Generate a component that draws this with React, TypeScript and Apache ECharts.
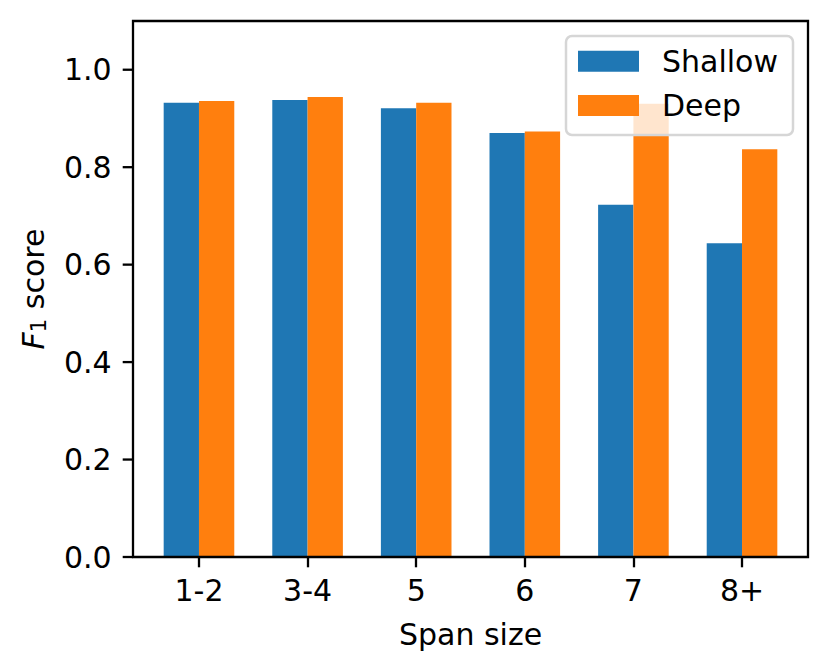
import React, { useEffect, useRef } from 'react';
import * as echarts from 'echarts';

const categories = ['1-2', '3-4', '5', '6', '7', '8+'];
const shallow = [0.932, 0.938, 0.921, 0.87, 0.723, 0.644];
const deep = [0.936, 0.944, 0.932, 0.873, 0.93, 0.837];
const yTicks = [0, 0.2, 0.4, 0.6, 0.8, 1.0];
const seriesNames = ['Shallow', 'Deep'];
const colors = ['#1f77b4', '#ff7f0e'];

export default function App() {
  const ref = useRef<HTMLDivElement>(null);
  useEffect(() => {
    const chart = echarts.init(ref.current!, null, { renderer: 'svg' });
    const font = 'DejaVu Sans';
    const fs = 30;
    const tickLen = 10.3;
    const lw = 2.3;
    const xMin = -0.6075;
    const xMax = 5.6075;
    const xPos = categories.map((_, i) => i);
    const lineStyle = { color: '#000', width: lw };
    chart.setOption({
      animation: false,
      backgroundColor: '#ffffff',
      textStyle: { fontFamily: font },
      grid: {
        left: 133, right: 21, top: 21, bottom: 114,
        show: true, z: 10, borderColor: '#000', borderWidth: lw, backgroundColor: 'transparent',
      },
      legend: {
        data: seriesNames, orient: 'vertical', left: 566, top: 36,
        icon: 'rect', itemWidth: 61, itemHeight: 21, itemGap: 14.3,
        padding: [10.2, 15, 14.5, 12],
        backgroundColor: 'rgba(255,255,255,0.8)', borderColor: '#d6d6d6', borderWidth: 2.5, borderRadius: 6,
        textStyle: { fontSize: fs, color: '#000', fontFamily: font, padding: [0, 0, 0, 18] },
        selectedMode: false, z: 20,
      },
      xAxis: {
        type: 'value', min: xMin, max: xMax, z: 11, position: 'bottom',
        splitLine: { show: false },
        axisLine: { show: false, onZero: false },
        axisTick: { show: true, inside: false, length: tickLen, lineStyle, customValues: xPos },
        axisLabel: {
          customValues: xPos,
          formatter: (v: number) => categories[Math.round(v)] ?? '',
          fontSize: fs, color: '#000', margin: 18.5, fontFamily: font,
        },
        name: 'Span size', nameLocation: 'middle', nameGap: 62,
        nameTextStyle: { fontSize: fs, color: '#000', fontFamily: font },
      },
      yAxis: {
        type: 'value', min: 0, max: 1.1, z: 11, position: 'left',
        splitLine: { show: false },
        axisLine: { show: false, onZero: false },
        axisTick: { show: false },
        axisLabel: {
          customValues: yTicks,
          // label text followed by a gap and a black dash that serves as the tick mark
          formatter: (v: number) => `{t|${v.toFixed(1)}}{g| }{d| }`,
          fontSize: fs, color: '#000', margin: 0, fontFamily: font,
          rich: {
            t: { fontSize: fs, color: '#000', fontFamily: font },
            g: { fontSize: fs, width: 11, color: 'rgba(0,0,0,0)' },
            d: { fontSize: 2, width: tickLen, height: lw, backgroundColor: '#000', color: 'rgba(0,0,0,0)' },
          },
        },
        name: '{i|F}{s|1} score', nameLocation: 'middle', nameGap: 84, nameRotate: 90,
        nameTextStyle: {
          fontSize: fs, color: '#000', fontFamily: font,
          rich: {
            i: { fontSize: fs, fontStyle: 'italic', fontFamily: font, color: '#000' },
            s: { fontSize: 21, fontFamily: font, color: '#000', padding: [10, 0, 0, 0] },
          },
        },
      },
      series: [
        {
          name: seriesNames[0], type: 'bar', barWidth: 35.3, barGap: '0%',
          itemStyle: { color: colors[0] },
          data: shallow.map((v, i) => [xPos[i], v]),
        },
        {
          name: seriesNames[1], type: 'bar', barWidth: 35.3, barGap: '0%',
          itemStyle: { color: colors[1] },
          data: deep.map((v, i) => [xPos[i], v]),
        },
      ],
    });
    return () => chart.dispose();
  }, []);
  return <div ref={ref} style={{ position: 'fixed', left: 0, top: 0, width: 829, height: 671 }} />;
}
